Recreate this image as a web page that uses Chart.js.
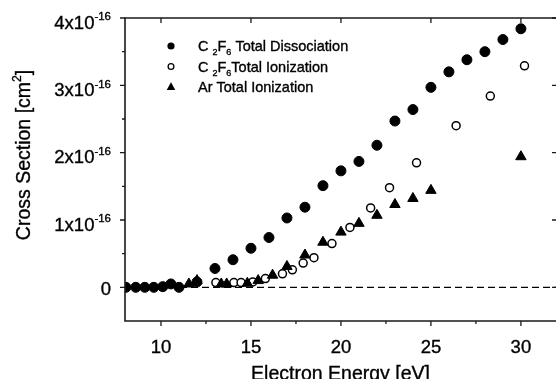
<!DOCTYPE html>
<html>
<head>
<meta charset="utf-8">
<script src="https://cdn.jsdelivr.net/npm/chart.js@4.4.1/dist/chart.umd.min.js"></script>
<style>
  html, body { margin: 0; padding: 0; background: #fff; overflow: hidden; }
  canvas { display: block; }
</style>
</head>
<body>
<canvas id="chart" width="556" height="379" style="width:556px;height:379px"></canvas>
<script>
// values in units of 1e-16 cm^2
const dissocEnergy = [8.05, 8.6, 9.1, 9.6, 10.1, 10.55, 11.0, 12.0, 13, 14, 15, 16, 17, 18, 19, 20, 21, 22, 23, 24, 25, 26, 27, 28, 29, 30];
const dissocCross = [0, 0, 0, 0, 0.01, 0.05, 0, 0.08, 0.28, 0.41, 0.58, 0.74, 1.03, 1.19, 1.51, 1.73, 1.87, 2.11, 2.47, 2.64, 2.97, 3.20, 3.38, 3.50, 3.68, 3.84];

const ionEnergy = [13.05, 14.05, 14.45, 15.1, 15.8, 16.75, 17.3, 17.9, 18.5, 19.5, 20.5, 21.65, 22.7, 24.2, 26.4, 28.3, 30.2];
const ionCross = [0.07, 0.07, 0.07, 0.08, 0.13, 0.20, 0.26, 0.36, 0.44, 0.65, 0.89, 1.18, 1.48, 1.85, 2.40, 2.84, 3.29];

const arEnergy = [11.55, 12.0, 13.35, 13.65, 14.8, 15.4, 16.2, 17.0, 18.0, 19.0, 20.0, 21.0, 22.0, 23.0, 24.0, 25.0, 30.0];
const arCross = [0.05, 0.1, 0.05, 0.05, 0.06, 0.1, 0.18, 0.31, 0.48, 0.67, 0.82, 0.95, 1.07, 1.23, 1.32, 1.44, 1.94];

const zeroLineX = [8, 32];

const xTickValues = [10, 15, 20, 25, 30];
const xMinorTicks = [12.5, 17.5, 22.5, 27.5];
const yTickValues = [0, 1, 2, 3, 4];
const yMinorTicks = [0.5, 1.5, 2.5, 3.5];
const yTickMantissa = ["0", "1x10", "2x10", "3x10", "4x10"];
const yTickExponent = "-16";

const FONT = "Arial, 'Liberation Sans', sans-serif";

function toPoints(xs, ys) {
    return xs.map((x, i) => ({ x, y: ys[i] }));
}

// draws a run of text parts, each {t, mode} where mode is "", "sub" or "sup"
function drawRich(ctx, parts, x, y, size) {
    let cx = x;
    for (const p of parts) {
        const s = p.mode ? size * 0.62 : size;
        let dy = 0;
        if (p.mode === "sub") dy = size * 0.28;
        if (p.mode === "sup") dy = -size * 0.45;
        ctx.font = s + "px " + FONT;
        ctx.fillText(p.t, cx, y + dy);
        ctx.lineWidth = 0.35;
        ctx.strokeText(p.t, cx, y + dy);
        cx += ctx.measureText(p.t).width;
    }
    return cx - x;
}

function richWidth(ctx, parts, size) {
    let w = 0;
    for (const p of parts) {
        const s = p.mode ? size * 0.62 : size;
        ctx.font = s + "px " + FONT;
        w += ctx.measureText(p.t).width;
    }
    return w;
}

const legendItems = [
    { style: "dot", parts: [{ t: "C " }, { t: "2", mode: "sub" }, { t: "F" }, { t: "6", mode: "sub" }, { t: " Total Dissociation" }] },
    { style: "ring", parts: [{ t: "C " }, { t: "2", mode: "sub" }, { t: "F" }, { t: "6", mode: "sub" }, { t: "Total Ionization" }] },
    { style: "tri", parts: [{ t: "Ar Total Ionization" }] },
];

function drawMarker(ctx, style, x, y, r) {
    ctx.beginPath();
    if (style === "tri") {
        ctx.moveTo(x, y - r);
        ctx.lineTo(x + r * 0.9, y + r * 0.65);
        ctx.lineTo(x - r * 0.9, y + r * 0.65);
        ctx.closePath();
        ctx.fill();
    } else if (style === "ring") {
        ctx.arc(x, y, r * 0.8, 0, Math.PI * 2);
        ctx.lineWidth = 1.3;
        ctx.stroke();
    } else {
        ctx.arc(x, y, r, 0, Math.PI * 2);
        ctx.fill();
    }
}

const framePlugin = {
    id: "frame",
    afterDraw(chart) {
        const { ctx, chartArea: a, scales } = chart;
        const xs = scales.x, ys = scales.y;
        // the right edge of the frame lies just outside the picture
        const right = xs.getPixelForValue(32);
        ctx.save();
        ctx.strokeStyle = "#1a1a1a";
        ctx.fillStyle = "#000";
        ctx.lineWidth = 1.6;
        ctx.beginPath();
        ctx.moveTo(right, a.top);
        ctx.lineTo(a.left, a.top);
        ctx.lineTo(a.left, a.bottom);
        ctx.lineTo(right, a.bottom);
        ctx.stroke();

        ctx.lineWidth = 1.3;
        ctx.beginPath();
        for (const v of xTickValues) {
            const px = xs.getPixelForValue(v);
            ctx.moveTo(px, a.bottom); ctx.lineTo(px, a.bottom + 5);
            ctx.moveTo(px, a.top); ctx.lineTo(px, a.top + 5);
        }
        for (const v of xMinorTicks) {
            const px = xs.getPixelForValue(v);
            ctx.moveTo(px, a.bottom); ctx.lineTo(px, a.bottom + 3);
        }
        for (const v of yTickValues) {
            const py = ys.getPixelForValue(v);
            ctx.moveTo(a.left, py); ctx.lineTo(a.left - 5, py);
            ctx.moveTo(a.right, py); ctx.lineTo(a.right - 4, py);
        }
        for (const v of yMinorTicks) {
            const py = ys.getPixelForValue(v);
            ctx.moveTo(a.left, py); ctx.lineTo(a.left - 3, py);
        }
        ctx.stroke();

        ctx.strokeStyle = "#000";

        // x tick labels
        ctx.textAlign = "left";
        ctx.textBaseline = "alphabetic";
        for (const v of xTickValues) {
            const parts = [{ t: String(v) }];
            const w = richWidth(ctx, parts, 18.5);
            drawRich(ctx, parts, xs.getPixelForValue(v) - w / 2, 352.5, 18.5);
        }

        // y tick labels
        yTickValues.forEach((v, i) => {
            const py = ys.getPixelForValue(v);
            const parts = v === 0 ? [{ t: yTickMantissa[i] }]
                : [{ t: yTickMantissa[i] }, { t: yTickExponent, mode: "sup" }];
            const size = 18.5;
            const w = richWidth(ctx, parts, size);
            const base = v === 0 ? py + 7.5 : py + 10.5;
            drawRich(ctx, parts, 111 - w, base, size);
        });

        // axis titles
        const xParts = [{ t: "Electron Energy [eV]" }];
        const xw = richWidth(ctx, xParts, 19.5);
        drawRich(ctx, xParts, (a.left + 556) / 2 - xw / 2, 379.5, 19.5);

        const yParts = [{ t: "Cross Section [cm" }, { t: "2", mode: "sup" }, { t: "]" }];
        ctx.save();
        ctx.translate(30, 155);
        ctx.rotate(-Math.PI / 2);
        const yw = richWidth(ctx, yParts, 19.5);
        drawRich(ctx, yParts, -yw / 2, 0, 19.5);
        ctx.restore();

        // legend
        legendItems.forEach((item, i) => {
            const y = 46 + i * 20.5;
            ctx.fillStyle = "#000";
            ctx.strokeStyle = "#000";
            drawMarker(ctx, item.style, 171, y, item.style === "tri" ? 4.8 : 3.6);
            drawRich(ctx, item.parts, 198, y + 5, 14.5);
        });
        ctx.restore();
    },
};

new Chart(document.getElementById("chart"), {
    type: "scatter",
    data: {
        datasets: [
            {
                label: "C2F6 Total Dissociation",
                data: toPoints(dissocEnergy, dissocCross),
                pointStyle: "circle",
                pointRadius: 5,
                backgroundColor: "#000",
                borderColor: "#000",
                borderWidth: 1,
                order: 1,
            },
            {
                label: "C2F6 Total Ionization",
                data: toPoints(ionEnergy, ionCross),
                pointStyle: "circle",
                pointRadius: 4,
                backgroundColor: "#fff",
                borderColor: "#000",
                borderWidth: 1.5,
                order: 3,
            },
            {
                label: "Ar Total Ionization",
                data: toPoints(arEnergy, arCross),
                pointStyle: "triangle",
                pointRadius: 6,
                backgroundColor: "#000",
                borderColor: "#000",
                borderWidth: 1,
                order: 2,
            },
            {
                type: "line",
                label: "zero",
                data: toPoints(zeroLineX, [0, 0]),
                borderColor: "#000",
                borderWidth: 1.3,
                borderDash: [7, 4],
                pointRadius: 0,
                fill: false,
                order: 10,
            },
        ],
    },
    options: {
        responsive: false,
        animation: false,
        devicePixelRatio: 1,
        layout: { autoPadding: false, padding: { left: 125, top: 18, right: 0, bottom: 58 } },
        plugins: {
            legend: { display: false },
            tooltip: { enabled: false },
        },
        scales: {
            x: { type: "linear", min: 8, max: 31.95, display: false },
            y: { type: "linear", min: -0.5, max: 4, display: false },
        },
    },
    plugins: [framePlugin],
});
</script>
</body>
</html>
